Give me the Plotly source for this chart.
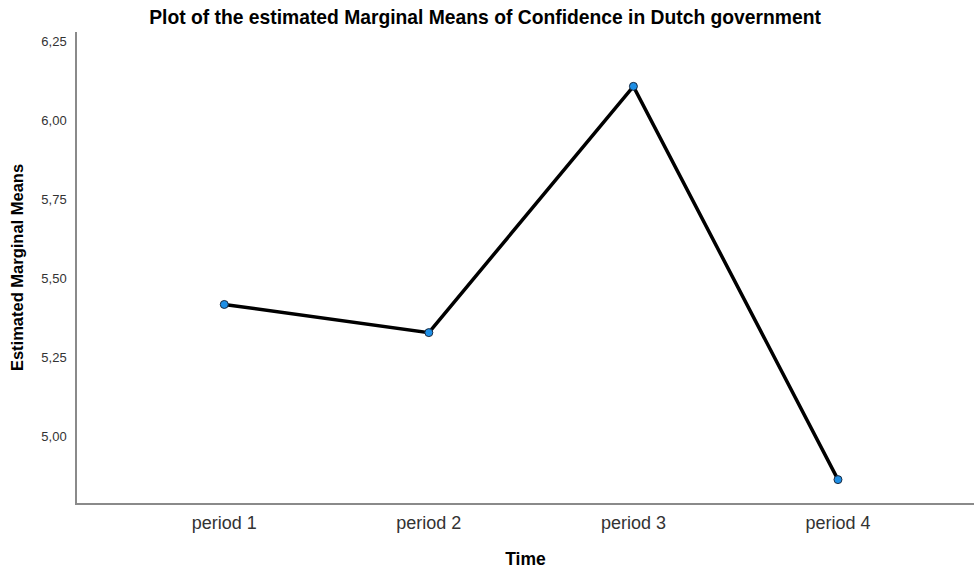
import plotly.graph_objects as go

categories = ["period 1", "period 2", "period 3", "period 4"]
means = [5.418, 5.329, 6.108, 4.864]
y_ticks = [5.00, 5.25, 5.50, 5.75, 6.00, 6.25]
y_tick_labels = ["5,00", "5,25", "5,50", "5,75", "6,00", "6,25"]

fig = go.Figure()
fig.add_trace(go.Scatter(
    x=list(range(len(categories))), y=means, mode="lines+markers",
    line=dict(color="black", width=3.5),
    marker=dict(size=8, color="#1e8fe6", line=dict(color="#1a2a40", width=1)),
    showlegend=False, cliponaxis=False,
))

fig.update_layout(
    width=974, height=569,
    margin=dict(l=77, r=0, t=32, b=66, autoexpand=False),
    paper_bgcolor="white", plot_bgcolor="white",
    font=dict(family="Liberation Sans, Arial, sans-serif", color="#222"),
    title=dict(text="<b>Plot of the estimated Marginal Means of Confidence in Dutch government</b>",
               x=0.498, xanchor="center", y=0.970, yanchor="middle",
               font=dict(size=19.3, color="black")),
)
fig.update_xaxes(
    tickmode="array", tickvals=list(range(len(categories))), ticktext=categories,
    range=[-0.72, 3.665], showgrid=False, zeroline=False, automargin=False,
    showline=True, linecolor="#8a8a8a", linewidth=1.5, ticks="",
    tickfont=dict(size=18, color="#333"), ticklabelstandoff=3,
    title=dict(text="<b>Time</b>", font=dict(size=17.5, color="black"), standoff=30),
)
fig.update_yaxes(
    tickmode="array", tickvals=y_ticks, ticktext=y_tick_labels,
    range=[4.79, 6.28], showgrid=False, zeroline=False, automargin=False,
    showline=True, linecolor="#8a8a8a", linewidth=1.5, ticks="",
    tickfont=dict(size=13, color="#333"), ticklabelstandoff=6,
    title=dict(text="<b>Estimated Marginal Means</b>", font=dict(size=16.5, color="black"), standoff=14),
)

fig.write_html("out.html",
               config={"displayModeBar": False},
               post_script="document.body.style.margin='0';document.body.style.overflow='hidden';")
